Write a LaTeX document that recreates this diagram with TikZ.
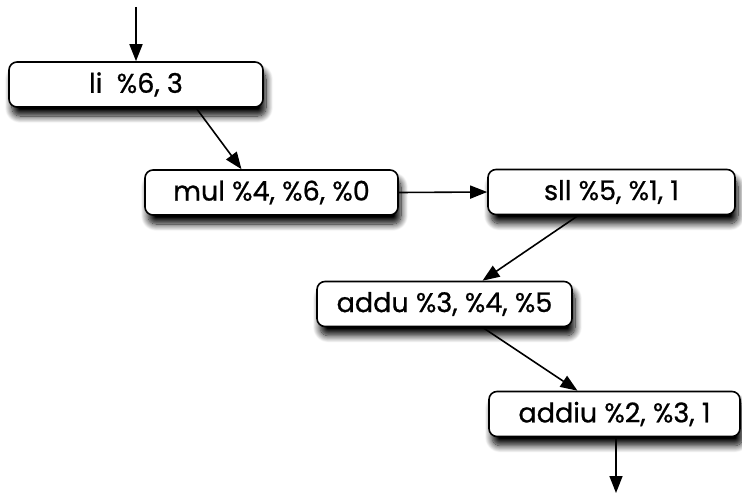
\documentclass[tikz,border=0pt]{standalone}
\usepackage{fontspec}
\newfontfamily\boxfont{Poppins}[FakeBold=0.8]
\usetikzlibrary{shadows.blur, arrows.meta}
\begin{document}
\begin{tikzpicture}[x=1pt,y=-1pt,
 box/.style={draw=black, line width=1.6pt, rounded corners=8pt, fill=white,
   blur shadow={shadow xshift=3pt, shadow yshift=-9pt, shadow blur steps=12, shadow blur radius=7pt, shadow opacity=100},
   inner sep=0pt, minimum height=45pt, font=\boxfont\fontsize{27}{30}\selectfont},
 conn/.style={-{Triangle[length=17pt,width=13pt]}, line width=1.6pt}]
\useasboundingbox (0,0) rectangle (742,495);
\node[box, minimum width=254pt] (li) at (136,84.5) {li\ \ \%6, 3};
\node[box, minimum width=253pt] (mul) at (271.5,192.5) {mul \%4, \%6, \%0};
\node[box, minimum width=247pt] (sll) at (611.5,192) {sll \%5, \%1, 1};
\node[box, minimum width=255pt] (addu) at (444.5,304) {addu \%3, \%4, \%5};
\node[box, minimum width=251pt] (addiu) at (614.5,414) {addiu \%2, \%3, 1};
\coordinate (top) at (136,7);
\coordinate (bot) at (616,493);
\draw[conn] (top) -- (li.north);
\draw[conn] ([xshift=60pt]li.south) -- ([xshift=-30pt]mul.north);
\draw[conn] (mul.east) -- (sll.west);
\draw[conn] ([xshift=-33pt]sll.south) -- ([xshift=38pt]addu.north);
\draw[conn] ([xshift=38pt]addu.south) -- ([xshift=-37pt]addiu.north);
\draw[conn] ([xshift=1.5pt]addiu.south) -- (bot);
\end{tikzpicture}
\end{document}
